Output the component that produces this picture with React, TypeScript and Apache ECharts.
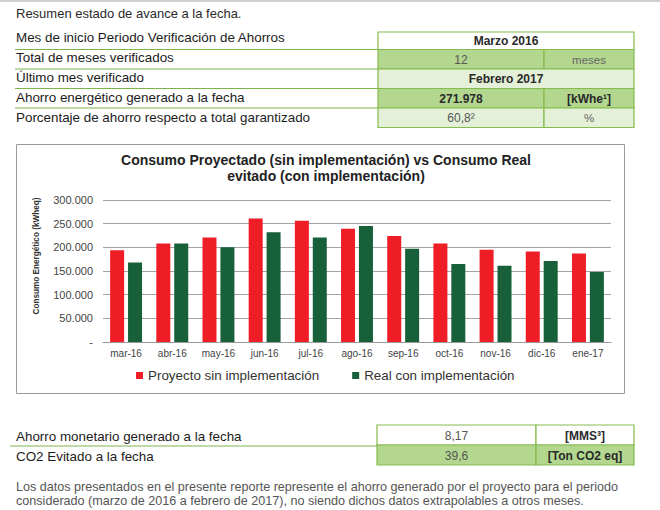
import React, { useEffect, useRef } from "react";
import * as echarts from "echarts";

const FONT = '"Liberation Sans", Arial, Helvetica, sans-serif';

const categories = ["mar-16", "abr-16", "may-16", "jun-16", "jul-16", "ago-16", "sep-16", "oct-16", "nov-16", "dic-16", "ene-17"];
const proyecto = [194000, 208000, 221000, 261000, 256000, 239000, 224000, 208000, 195000, 191000, 187000];
const real = [168000, 208000, 200000, 232000, 221000, 245000, 197000, 165000, 161000, 171000, 148000];
const seriesNames = ["Proyecto sin implementación", "Real con implementación"];
const yTicks = [0, 50000, 100000, 150000, 200000, 250000, 300000];

const pageTitle = "Resumen estado de avance a la fecha.";
const chartTitle = "Consumo Proyectado (sin implementación) vs Consumo Real\nevitado (con implementación)";
const yAxisTitle = "Consumo Energético (kWheq)";

const topLabels = [
  "Mes de inicio Periodo Verificación de Ahorros",
  "Total de meses verificados",
  "Último mes verificado",
  "Ahorro energético generado a la fecha",
  "Porcentaje de ahorro respecto a total garantizado",
];
const topValues = ["Marzo 2016", "12", "Febrero 2017", "271.978", "60,8²"];
const topUnits = ["", "meses", "", "[kWhe¹]", "%"];
const topValueBold = [true, false, true, true, false];
const topUnitBold = [false, false, false, true, false];

const bottomLabels = ["Ahorro monetario generado a la fecha", "CO2 Evitado a la fecha"];
const bottomValues = ["8,17", "39,6"];
const bottomUnits = ["[MMS³]", "[Ton CO2 eq]"];

const footerLines = [
  "Los datos presentados en el presente reporte represente el ahorro generado por el proyecto para el periodo",
  "considerado (marzo de 2016 a febrero de 2017), no siendo dichos datos extrapolables a otros meses.",
];

const RED = "#ee1d26";
const GREEN = "#17603a";
const MID_GREEN = "#b3d78f";
const LIGHT_GREEN = "#e4f0d7";
const BORDER_GREEN = "#86bb4e";

function fmt(v: number) {
  if (v === 0) return "-";
  return String(v).replace(/\B(?=(\d{3})+(?!\d))/g, ".");
}

function txt(x: number, y: number, text: string, opts: any = {}) {
  return {
    type: "text",
    x,
    y,
    silent: true,
    style: {
      text,
      fontFamily: FONT,
      fontSize: opts.size || 12,
      fontWeight: opts.bold ? "bold" : "normal",
      fill: opts.color || "#222",
      align: opts.align || "left",
      verticalAlign: "middle",
    },
  };
}

function buildGraphics() {
  const g: any[] = [];
  g.push({ type: "rect", shape: { x: 0, y: 0, width: 660, height: 2 }, style: { fill: "#cfcfcf" }, silent: true });
  g.push(txt(16, 13, pageTitle, { size: 13, color: "#2a2a2a" }));

  // top table
  const tx0 = 378, tx1 = 544, tx2 = 634;
  const edges = [32, 49.5, 69, 88.5, 108, 127.5];
  const fills = ["#ffffff", MID_GREEN, LIGHT_GREEN, MID_GREEN, LIGHT_GREEN];
  const labelY = [37.5, 57.5, 77.5, 97.5, 117];
  topLabels.forEach((lab, i) => {
    const y0 = edges[i], y1 = edges[i + 1];
    const mid = (y0 + y1) / 2 + 0.5;
    const merged = topUnits[i] === "";
    if (merged) {
      g.push({ type: "rect", shape: { x: tx0, y: y0, width: tx2 - tx0, height: y1 - y0 }, style: { fill: fills[i], stroke: BORDER_GREEN, lineWidth: 1.2 }, silent: true });
      g.push(txt((tx0 + tx2) / 2, mid, topValues[i], { align: "center", bold: topValueBold[i], color: "#2a2a2a" }));
    } else {
      g.push({ type: "rect", shape: { x: tx0, y: y0, width: tx1 - tx0, height: y1 - y0 }, style: { fill: fills[i], stroke: BORDER_GREEN, lineWidth: 1.2 }, silent: true });
      g.push({ type: "rect", shape: { x: tx1, y: y0, width: tx2 - tx1, height: y1 - y0 }, style: { fill: fills[i], stroke: BORDER_GREEN, lineWidth: 1.2 }, silent: true });
      g.push(txt((tx0 + tx1) / 2, mid, topValues[i], { align: "center", bold: topValueBold[i], color: topValueBold[i] ? "#2a2a2a" : "#555" }));
      g.push(txt((tx1 + tx2) / 2, mid, topUnits[i], { align: "center", bold: topUnitBold[i], color: topUnitBold[i] ? "#2a2a2a" : "#666", size: topUnitBold[i] ? 12 : 11.5 }));
    }
    g.push(txt(16, labelY[i], lab, { size: 13.4, color: "#1c1c1c" }));
    if (i < topLabels.length - 1) {
      g.push({ type: "line", shape: { x1: 15, y1: y1, x2: tx0, y2: y1 }, style: { stroke: "#7cb44c", lineWidth: 1 }, silent: true });
    }
  });

  // chart box
  g.push({ type: "rect", shape: { x: 16.5, y: 144.5, width: 608, height: 249 }, style: { fill: "none", stroke: "#9a9a9a", lineWidth: 1 }, silent: true, z: -1 });
  g.push({
    type: "text",
    x: 36,
    y: 256,
    rotation: Math.PI / 2,
    silent: true,
    style: { text: yAxisTitle, fontFamily: FONT, fontSize: 8.2, fontWeight: "bold", fill: "#333", align: "center", verticalAlign: "middle" },
  });

  // bottom table
  const bx0 = 377, bx1 = 536, bx2 = 634;
  const bEdges = [425, 445, 465];
  const bFills = ["#ffffff", MID_GREEN];
  bottomLabels.forEach((lab, i) => {
    const y0 = bEdges[i], y1 = bEdges[i + 1];
    const mid = (y0 + y1) / 2 + 1;
    g.push({ type: "rect", shape: { x: bx0, y: y0, width: bx1 - bx0, height: y1 - y0 }, style: { fill: bFills[i], stroke: BORDER_GREEN, lineWidth: 1.2 }, silent: true });
    g.push({ type: "rect", shape: { x: bx1, y: y0, width: bx2 - bx1, height: y1 - y0 }, style: { fill: bFills[i], stroke: BORDER_GREEN, lineWidth: 1.2 }, silent: true });
    g.push(txt((bx0 + bx1) / 2, mid, bottomValues[i], { align: "center", color: "#555" }));
    g.push(txt((bx1 + bx2) / 2, mid, bottomUnits[i], { align: "center", bold: true, color: "#2a2a2a" }));
    g.push(txt(16, mid, lab, { size: 13.4, color: "#1c1c1c" }));
  });
  g.push({ type: "line", shape: { x1: 10, y1: 446, x2: bx0, y2: 446 }, style: { stroke: "#7cb44c", lineWidth: 1 }, silent: true });

  footerLines.forEach((l, i) => {
    g.push(txt(16, 487 + i * 14, l, { size: 12.6, color: "#555" }));
  });
  return g;
}

export default function App() {
  const ref = useRef<HTMLDivElement>(null);
  useEffect(() => {
    if (!ref.current) return;
    const chart = echarts.init(ref.current, null, { renderer: "svg" });
    chart.setOption({
      animation: false,
      backgroundColor: "#ffffff",
      textStyle: { fontFamily: FONT },
      title: {
        text: chartTitle,
        left: 321,
        top: 147,
        textAlign: "center",
        textStyle: { fontFamily: FONT, fontSize: 14, fontWeight: "bold", color: "#222", lineHeight: 16 },
      },
      legend: {
        data: seriesNames,
        left: 131,
        top: 364,
        icon: "rect",
        itemWidth: 7,
        itemHeight: 7,
        itemGap: 33,
        textStyle: { fontFamily: FONT, fontSize: 13.4, color: "#333" },
      },
      grid: { left: 103, right: 49, top: 200, bottom: 168, containLabel: false },
      xAxis: {
        type: "category",
        data: categories,
        axisTick: { show: false },
        axisLine: { lineStyle: { color: "#9a9a9a", width: 1 } },
        axisLabel: { fontFamily: FONT, fontSize: 10, color: "#444", margin: 6 },
      },
      yAxis: {
        type: "value",
        min: yTicks[0],
        max: yTicks[yTicks.length - 1],
        interval: yTicks[1] - yTicks[0],
        axisLine: { show: false },
        axisTick: { show: false },
        splitLine: { lineStyle: { color: "#a3a3a3", width: 1 } },
        axisLabel: { fontFamily: FONT, fontSize: 11, color: "#444", margin: 10, formatter: (v: number) => fmt(v) },
      },
      series: [
        { name: seriesNames[0], type: "bar", data: proyecto, barWidth: 14, barGap: "28%", itemStyle: { color: RED } },
        { name: seriesNames[1], type: "bar", data: real, barWidth: 14, itemStyle: { color: GREEN } },
      ],
      graphic: buildGraphics(),
    });
    return () => chart.dispose();
  }, []);
  return <div ref={ref} style={{ position: "absolute", left: 0, top: 0, width: 660, height: 510 }} />;
}
